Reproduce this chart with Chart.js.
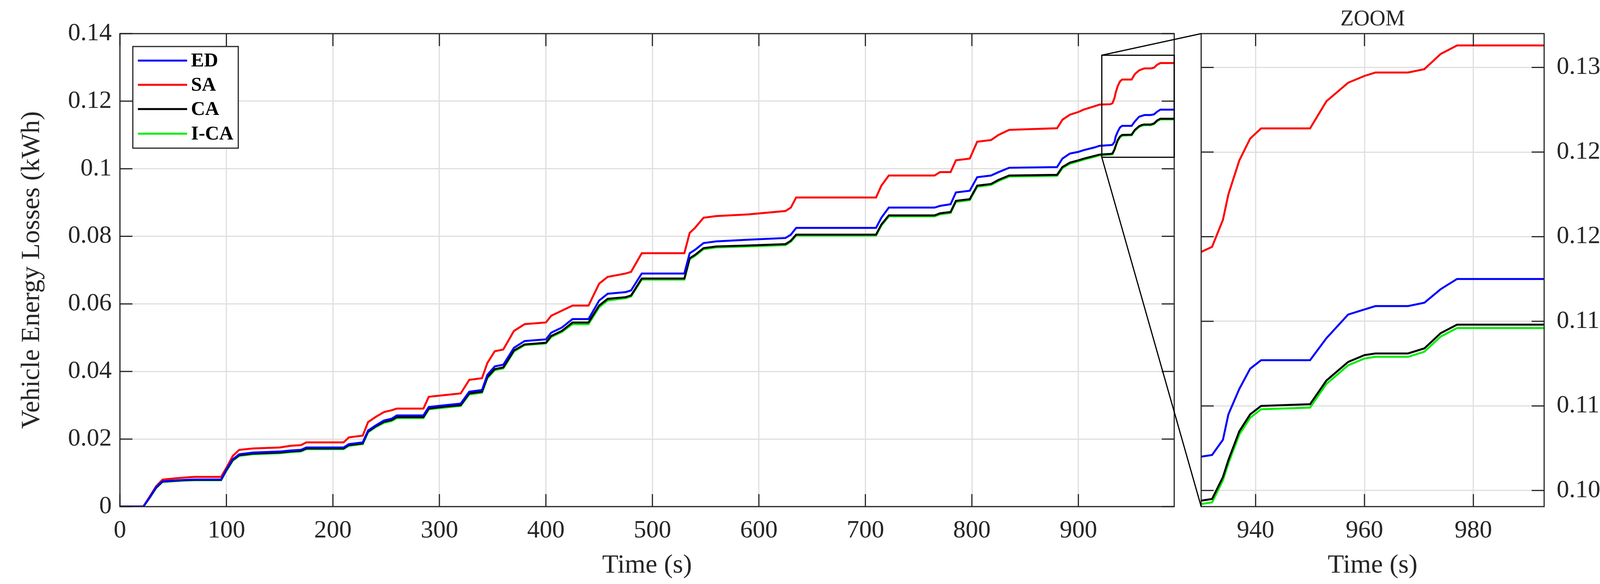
<!DOCTYPE html>
<html><head><meta charset="utf-8">
<script src="https://cdn.jsdelivr.net/npm/chart.js@4"></script>
<style>html,body{margin:0;padding:0;background:#fff;width:4275px;height:1494px;overflow:hidden}
canvas{position:absolute;top:0}</style></head>
<body>
<canvas id="c1" width="3040" height="1494" style="left:0"></canvas>
<canvas id="c2" width="1235" height="1494" style="left:3040px"></canvas>
<canvas id="ov" width="4275" height="1494" style="left:0;pointer-events:none"></canvas>
<script>
const T   = [0,22,28,34,40,50,60,70,95,100,106,112,125,150,160,170,175,210,215,228,233,240,248,255,260,285,290,305,320,328,340,345,352,360,370,380,400,405,415,425,440,450,458,475,480,490,530,535,540,548,560,590,625,630,635,710,715,722,765,770,780,785,798,805,818,825,835,880,885,892,900,905,915,920,930,932,934,935,937,939,941,950,953,957,960,962,968,971,974,977,993];
const SA  = [0,0,.003,.006,.008,.0083,.0086,.0088,.0088,.0115,.015,.0168,.0172,.0175,.018,.0182,.019,.019,.0205,.021,.025,.0265,.028,.0285,.029,.029,.0325,.033,.0335,.0375,.038,.0425,.046,.0465,.052,.054,.0545,.0565,.058,.0595,.0595,.066,.068,.069,.0695,.075,.075,.081,.0825,.0855,.086,.0865,.0875,.0885,.0915,.0915,.095,.098,.098,.099,.099,.1025,.103,.108,.1085,.110,.1115,.112,.1145,.116,.1168,.1175,.1185,.119,.1191,.1194,.121,.1225,.1245,.1258,.1264,.1264,.1280,.1291,.1295,.1297,.1297,.1299,.1308,.1313,.1313];
const ED  = [0,0,.0028,.0058,.0075,.0077,.0079,.008,.008,.011,.014,.0155,.016,.0163,.0166,.0168,.0175,.0175,.0185,.019,.0225,.024,.0255,.026,.027,.027,.0295,.030,.0305,.034,.0345,.039,.0415,.042,.047,.049,.0495,.0515,.053,.0555,.0555,.061,.063,.0635,.064,.069,.069,.075,.076,.078,.0785,.079,.0795,.0805,.0825,.0825,.0855,.0885,.0885,.089,.0895,.093,.0935,.0975,.098,.099,.1003,.1005,.103,.1045,.105,.1055,.1063,.1068,.107,.1071,.108,.1095,.111,.1122,.1127,.1127,.1140,.1154,.1157,.1159,.1159,.1161,.1169,.1175,.1175];
const CA  = [0,0,.0027,.0056,.0074,.0076,.0078,.0079,.0079,.0108,.0138,.0152,.0157,.016,.0163,.0165,.0172,.0172,.0182,.0187,.0222,.0237,.0251,.0256,.0265,.0265,.029,.0296,.030,.0335,.034,.0383,.0407,.0412,.0462,.048,.0485,.0505,.052,.0545,.0545,.0595,.0615,.062,.0625,.0675,.0675,.0735,.0745,.0765,.077,.0773,.0777,.0787,.0805,.0805,.0835,.0862,.0862,.0868,.0872,.0905,.091,.095,.0955,.0967,.098,.0982,.1005,.1018,.1025,.103,.1038,.1042,.1044,.1045,.1058,.1068,.1085,.1095,.1100,.1101,.1115,.1126,.1130,.1131,.1131,.1134,.1143,.1148,.1148];
const ICA = [0,0,.0026,.0055,.0073,.0075,.0077,.0078,.0078,.0106,.0136,.015,.0155,.0158,.0161,.0163,.017,.017,.018,.0185,.022,.0235,.0248,.0253,.0262,.0262,.0288,.0293,.0298,.0332,.0337,.038,.0404,.0409,.0459,.0478,.0483,.0502,.0517,.054,.054,.059,.061,.0617,.0622,.0672,.0672,.0732,.0742,.0762,.0767,.077,.0774,.0784,.0802,.0802,.0832,.0859,.0859,.0865,.0869,.0902,.0907,.0947,.0952,.0964,.0977,.0979,.1002,.1015,.1022,.1027,.1035,.104,.1042,.1043,.1056,.1066,.1083,.1093,.1098,.1099,.1113,.1124,.1128,.1129,.1129,.1132,.1141,.1146,.1146];
const NAMES = ['ED','SA','CA','I-CA'];
const COLORS = ['#0000ff','#ff0000','#000000','#00ee00'];
const MAIN_X_TICKS = [0,100,200,300,400,500,600,700,800,900];
const MAIN_Y_TICKS = [0,0.02,0.04,0.06,0.08,0.1,0.12,0.14];
const ZOOM_X_TICKS = [940,960,980];
const ZOOM_Y_TICKS = [0.105,0.11,0.115,0.12,0.125,0.13];
const ZOOM_BOX = {x0:922, x1:990, y0:0.1034, y1:0.1336};

const FONT = '"Liberation Serif", "DejaVu Serif", serif';
const TXT = '#262626';
function pts(vals){ return T.map((t,i)=>({x:t,y:vals[i]})); }
function datasets(lw){
  return [ED,SA,CA,ICA].map((v,i)=>({label:NAMES[i],data:pts(v),borderColor:COLORS[i],borderWidth:lw,pointRadius:0,tension:0,fill:false}));
}
function fmt(v){ return String(+v.toFixed(4)); }
function frame(chart, tl){
  const c=chart.ctx, a=chart.chartArea, sx=chart.scales.x, sy=chart.scales.y;
  c.save(); c.strokeStyle=TXT; c.lineWidth=3;
  c.strokeRect(a.left,a.top,a.right-a.left,a.bottom-a.top);
  c.beginPath();
  sx.ticks.forEach(t=>{const p=sx.getPixelForValue(t.value);c.moveTo(p,a.bottom);c.lineTo(p,a.bottom-tl);c.moveTo(p,a.top);c.lineTo(p,a.top+tl);});
  sy.ticks.forEach(t=>{const p=sy.getPixelForValue(t.value);c.moveTo(a.left,p);c.lineTo(a.left+tl,p);c.moveTo(a.right,p);c.lineTo(a.right-tl,p);});
  c.stroke(); c.restore();
}
function text(c,s,x,y,size,rot,bold){
  c.save(); c.fillStyle=TXT; c.font=(bold?'bold ':'')+size+'px '+FONT; c.textAlign='center'; c.textBaseline='middle';
  c.translate(x,y); if(rot) c.rotate(rot); c.fillText(s,0,0); c.restore();
}
const mainPlugin={id:'mainDeco',afterDraw(chart){
  const c=chart.ctx,a=chart.chartArea,sx=chart.scales.x,sy=chart.scales.y;
  frame(chart,32);
  text(c,'Vehicle Energy Losses (kWh)',82,(a.top+a.bottom)/2,68,-Math.PI/2);
  text(c,'Time (s)',(a.left+a.right)/2,1447,68,0);
  c.save(); c.strokeStyle='#000'; c.lineWidth=3;
  const x0=sx.getPixelForValue(ZOOM_BOX.x0), x1=Math.min(a.right,sx.getPixelForValue(ZOOM_BOX.x1));
  const y0=sy.getPixelForValue(ZOOM_BOX.y0), y1=sy.getPixelForValue(ZOOM_BOX.y1);
  c.strokeRect(x0,y1,x1-x0,y0-y1); c.restore();
  c.save(); c.fillStyle='#fff'; c.strokeStyle=TXT; c.lineWidth=3;
  c.fillRect(340,119,270,260); c.strokeRect(340,119,270,260);
  const ys=[155,217,279,342];
  chart.data.datasets.forEach((d,i)=>{
    c.strokeStyle=d.borderColor; c.lineWidth=5; c.beginPath(); c.moveTo(353,ys[i]); c.lineTo(479,ys[i]); c.stroke();
    c.fillStyle='#000'; c.font='bold 50px '+FONT; c.textAlign='left'; c.textBaseline='middle'; c.fillText(d.label,489,ys[i]+2);
  });
  c.restore();
}};
const zoomPlugin={id:'zoomDeco',afterDraw(chart){
  const c=chart.ctx,a=chart.chartArea;
  frame(chart,32);
  text(c,'ZOOM',(a.left+a.right)/2,50,56,0);
  text(c,'Time (s)',(a.left+a.right)/2,1447,68,0);
  text(c,'Vehicle Energy Losses (kWh)',1166,(a.top+a.bottom)/2,68,-Math.PI/2);
}};
function scaleX(min,max,ticks){
  return {type:'linear',min:min,max:max,afterBuildTicks:s=>{s.ticks=ticks.map(v=>({value:v}));},
    afterFit:s=>{s.height=198;},
    grid:{color:'#dfdfdf',lineWidth:3,drawTicks:false},border:{display:false},
    ticks:{font:{family:FONT,size:64},color:TXT,padding:24,maxRotation:0,callback:fmt}};
}
function scaleY(min,max,ticks,pos,w,pad){
  return {type:'linear',position:pos,min:min,max:max,afterBuildTicks:s=>{s.ticks=ticks.map(v=>({value:v}));},
    afterFit:s=>{s.width=w;},
    grid:{color:'#dfdfdf',lineWidth:3,drawTicks:false},border:{display:false},
    ticks:{font:{family:FONT,size:64},color:TXT,padding:pad,callback:fmt}};
}
const common={responsive:false,animation:false,devicePixelRatio:1,plugins:{legend:{display:false},tooltip:{enabled:false}}};
const ch1=new Chart(document.getElementById('c1'),{type:'line',data:{datasets:datasets(5)},
  options:Object.assign({},common,{layout:{padding:{top:86,right:34,left:0,bottom:0}},
    scales:{x:scaleX(0,990,MAIN_X_TICKS),y:scaleY(0,0.14,MAIN_Y_TICKS,'left',307,21)}}),plugins:[mainPlugin]});
const ch2=new Chart(document.getElementById('c2'),{type:'line',data:{datasets:datasets(5)},
  options:Object.assign({},common,{layout:{padding:{top:86,left:35,right:0,bottom:0}},
    scales:{x:scaleX(930,993,ZOOM_X_TICKS),y:scaleY(0.10405,0.132,ZOOM_Y_TICKS,'right',322,32)}}),plugins:[zoomPlugin]});
const o=document.getElementById('ov').getContext('2d');
const s1x=ch1.scales.x,s1y=ch1.scales.y,a2=ch2.chartArea;
const bx=s1x.getPixelForValue(ZOOM_BOX.x0), byT=s1y.getPixelForValue(ZOOM_BOX.y1), byB=s1y.getPixelForValue(ZOOM_BOX.y0);
o.strokeStyle='#000'; o.lineWidth=3; o.beginPath();
o.moveTo(bx,byT); o.lineTo(3040+a2.left,a2.top);
o.moveTo(bx,byB); o.lineTo(3040+a2.left,a2.bottom);
o.stroke();
</script></body></html>
